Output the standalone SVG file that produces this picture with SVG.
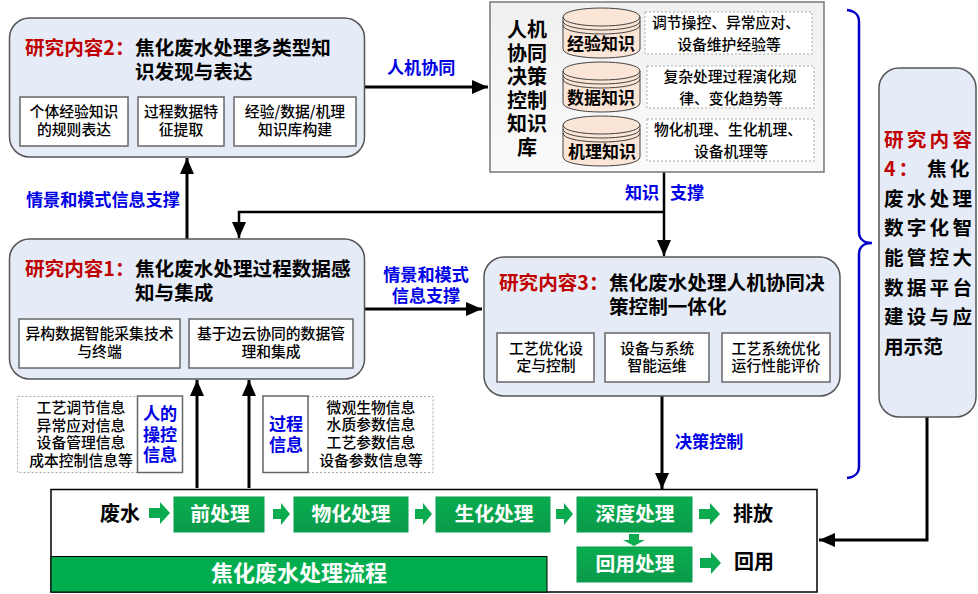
<svg xmlns="http://www.w3.org/2000/svg" width="978" height="594" viewBox="0 0 978 594">
<style>
text{font-family:"Noto Sans CJK SC","Liberation Sans",sans-serif;fill:#000}
.c{text-anchor:middle}
.panel{fill:#e6ecf7;stroke:#555;stroke-width:1.5}
.sub{fill:#fff;stroke:#666;stroke-width:1.5}
.dash{fill:#fff;stroke:#aaa;stroke-width:1;stroke-dasharray:2 2}
.red{fill:#c00000;font-size:19.6px;font-weight:700}
.title{font-size:19.6px;font-weight:700}
.s{font-size:14.8px;font-weight:500}
.blue{fill:#0000e6;font-size:17.1px;font-weight:700}
.big{font-size:20px;font-weight:700}
.white{fill:#fff;font-size:19.8px;font-weight:700}
.green{fill:url(#gb);stroke:#0aa04c;stroke-width:1}
.line{fill:none;stroke:#000;stroke-width:3}
.thin{fill:none;stroke:#000;stroke-width:2.5}
.cyl{fill:#fbe5d6;stroke:#444;stroke-width:1}
.cl{fill:none;stroke:#444;stroke-width:1}
.ga{fill:#0cab50}
</style>
<defs>
<linearGradient id="gb" x1="0" y1="0" x2="0" y2="1"><stop offset="0" stop-color="#0aad50"/><stop offset="1" stop-color="#0a9a4a"/></linearGradient>
<linearGradient id="kb" x1="0" y1="0" x2="0" y2="1"><stop offset="0" stop-color="#f0f0f0"/><stop offset="1" stop-color="#fafafa"/></linearGradient>
<marker id="ah" markerUnits="userSpaceOnUse" markerWidth="18" markerHeight="14" refX="16" refY="7" orient="auto"><path d="M0 0L16 7L0 14Z" fill="#000"/></marker>
<path id="ar" class="ga" d="M0 -5H11V-11L21 0L11 11V5H0Z"/>
<path id="as" class="ga" d="M0 -5H8V-11L17 0L8 11V5H0Z"/>
<g id="cy">
<path class="cyl" d="M0 9C0 -3 77 -3 77 9V41C77 53 0 53 0 41Z"/>
<path class="cl" d="M0 9C0 21 77 21 77 9M0 13C0 25 77 25 77 13M0 17C0 29 77 29 77 17"/>
</g>
</defs>

<g id="connectors">
<path class="line" d="M365 87H488" marker-end="url(#ah)"/>
<path class="line" d="M187 239V158" marker-end="url(#ah)"/>
<path class="thin" d="M664 212H239V238" marker-end="url(#ah)"/>
<path class="thin" d="M664 172V256" marker-end="url(#ah)"/>
<path class="line" d="M365 309H482" marker-end="url(#ah)"/>
<path class="line" d="M197 488V380" marker-end="url(#ah)"/>
<path class="line" d="M249 488V380" marker-end="url(#ah)"/>
<path class="line" d="M662 396V489" marker-end="url(#ah)"/>
<path class="line" d="M927 417V540H819" marker-end="url(#ah)"/>
<path d="M847 10C855 11 859 14 859 22V232C859 239 864 243 872 243C864 243 859 247 859 254V466C859 474 855 477 847 478" fill="none" stroke="#0000c8" stroke-width="2.5"/>
<text class="blue" x="387" y="74">人机协同</text>
<text class="blue" x="26" y="206">情景和模式信息支撑</text>
<text class="blue" x="625" y="199">知识</text>
<text class="blue" x="670" y="199">支撑</text>
<text class="blue c" x="426" y="281">情景和模式</text>
<text class="blue c" x="426" y="302">信息支撑</text>
<text class="blue" x="675" y="448">决策控制</text>
</g>

<g id="node-r2">
<rect class="panel" x="9.500" y="18" width="355" height="139" rx="20"/>
<text class="red" x="25" y="55">研究内容2：</text>
<text class="title" x="135" y="55">焦化废水处理多类型知</text>
<text class="title" x="135" y="79">识发现与表达</text>
<rect class="sub" x="20" y="97" width="108" height="49"/>
<text class="s c" x="74" y="117">个体经验知识</text>
<text class="s c" x="74" y="135">的规则表达</text>
<rect class="sub" x="138" y="97" width="86" height="49"/>
<text class="s c" x="181" y="117">过程数据特</text>
<text class="s c" x="181" y="135">征提取</text>
<rect class="sub" x="234" y="97" width="122" height="49"/>
<text class="s c" x="295" y="117">经验/数据/机理</text>
<text class="s c" x="295" y="135">知识库构建</text>
</g>

<g id="node-r1">
<rect class="panel" x="9.500" y="239" width="355" height="140" rx="20"/>
<text class="red" x="25" y="276">研究内容1：</text>
<text class="title" x="135" y="276">焦化废水处理过程数据感</text>
<text class="title" x="135" y="300">知与集成</text>
<rect class="sub" x="19" y="319" width="161" height="49"/>
<text class="s c" x="99.500" y="339">异构数据智能采集技术</text>
<text class="s c" x="99.500" y="357">与终端</text>
<rect class="sub" x="189" y="319" width="164" height="49"/>
<text class="s c" x="271" y="339">基于边云协同的数据管</text>
<text class="s c" x="271" y="357">理和集成</text>
</g>

<g id="node-r3">
<rect class="panel" x="484" y="257" width="356" height="139" rx="20"/>
<text class="red" x="499" y="290">研究内容3：</text>
<text class="title" x="609" y="290">焦化废水处理人机协同决</text>
<text class="title" x="609" y="314">策控制一体化</text>
<rect class="sub" x="497" y="333" width="97" height="49"/>
<text class="s c" x="546" y="354">工艺优化设</text>
<text class="s c" x="546" y="371">定与控制</text>
<rect class="sub" x="605" y="333" width="104" height="49"/>
<text class="s c" x="657" y="354">设备与系统</text>
<text class="s c" x="657" y="371">智能运维</text>
<rect class="sub" x="722" y="333" width="108" height="49"/>
<text class="s c" x="776" y="354">工艺系统优化</text>
<text class="s c" x="776" y="371">运行性能评价</text>
</g>

<g id="node-kb">
<rect x="490" y="2" width="334" height="170" fill="url(#kb)" stroke="#777" stroke-width="1.500"/>
<text class="c big" x="527" y="37">人机</text>
<text class="c big" x="527" y="61">协同</text>
<text class="c big" x="527" y="84">决策</text>
<text class="c big" x="527" y="108">控制</text>
<text class="c big" x="527" y="131">知识</text>
<text class="c big" x="527" y="155">库</text>
<use href="#cy" x="563" y="8"/>
<use href="#cy" x="563" y="62"/>
<use href="#cy" x="563" y="116"/>
<text class="c" font-size="17" font-weight="700" x="601" y="50">经验知识</text>
<text class="c" font-size="17" font-weight="700" x="601" y="104">数据知识</text>
<text class="c" font-size="17" font-weight="700" x="602" y="158">机理知识</text>
<rect class="dash" x="645" y="12" width="167" height="42"/>
<text class="s c" x="726" y="28">调节操控、异常应对、</text>
<text class="s c" x="729" y="50">设备维护经验等</text>
<rect class="dash" x="647" y="66" width="167" height="42"/>
<text class="s c" x="730" y="82">复杂处理过程演化规</text>
<text class="s c" x="731" y="104">律、变化趋势等</text>
<rect class="dash" x="647" y="119" width="167" height="42"/>
<text class="s c" x="728" y="135">物化机理、生化机理、</text>
<text class="s c" x="731" y="157">设备机理等</text>
</g>

<g id="node-r4">
<rect class="panel" x="879" y="68" width="97" height="349" rx="20"/>
<text class="red" x="884" y="147" letter-spacing="3.200">研究内容</text>
<text class="red" x="884" y="176" letter-spacing="3">4：</text>
<text class="title" x="927" y="176" letter-spacing="3.200">焦化</text>
<text class="title" x="884" y="206" letter-spacing="3.200">废水处理</text>
<text class="title" x="884" y="235" letter-spacing="3.200">数字化智</text>
<text class="title" x="884" y="265" letter-spacing="3.200">能管控大</text>
<text class="title" x="884" y="295" letter-spacing="3.200">数据平台</text>
<text class="title" x="884" y="324" letter-spacing="3.200">建设与应</text>
<text class="title" x="884" y="354">用示范</text>
</g>

<g id="node-human">
<rect class="dash" x="17.500" y="396.500" width="120" height="76"/>
<text class="s c" x="81" y="413">工艺调节信息</text>
<text class="s c" x="81" y="431">异常应对信息</text>
<text class="s c" x="81" y="448">设备管理信息</text>
<text class="s c" x="81" y="466">成本控制信息等</text>
<rect class="sub" x="137.500" y="396" width="45" height="76.500"/>
<text class="blue c" x="160" y="420">人的</text>
<text class="blue c" x="160" y="441">操控</text>
<text class="blue c" x="160" y="461">信息</text>
</g>

<g id="node-process-info">
<rect class="dash" x="308" y="396.500" width="125" height="76"/>
<text class="s c" x="371" y="413">微观生物信息</text>
<text class="s c" x="371" y="430">水质参数信息</text>
<text class="s c" x="371" y="448">工艺参数信息</text>
<text class="s c" x="371" y="466">设备参数信息等</text>
<rect class="sub" x="263" y="396" width="45" height="76.500"/>
<text class="blue c" x="286" y="430">过程</text>
<text class="blue c" x="286" y="451">信息</text>
</g>

<g id="node-flow">
<rect x="51" y="489.500" width="766" height="102.500" fill="#fff" stroke="#000" stroke-width="1.500"/>
<rect x="51" y="556.500" width="496" height="35.500" fill="#00ad4e" stroke="#000" stroke-width="1"/>
<text class="c" x="299" y="581" font-size="22" font-weight="700" style="fill:#fff">焦化废水处理流程</text>
<text class="big c" x="120" y="521">废水</text>
<rect class="green" x="174" y="497" width="90" height="35"/>
<text class="white c" x="220" y="521">前处理</text>
<rect class="green" x="294" y="497" width="114" height="35"/>
<text class="white c" x="351" y="521">物化处理</text>
<rect class="green" x="436" y="497" width="114" height="35"/>
<text class="white c" x="494" y="521">生化处理</text>
<rect class="green" x="577" y="497" width="115" height="35"/>
<text class="white c" x="635" y="521">深度处理</text>
<rect class="green" x="577" y="547" width="115" height="35"/>
<text class="white c" x="635" y="571">回用处理</text>
<text class="big c" x="753" y="521">排放</text>
<text class="big c" x="754" y="569">回用</text>
<use href="#ar" x="149" y="513"/>
<use href="#as" x="273" y="514"/>
<use href="#as" x="415" y="514"/>
<use href="#as" x="556" y="514"/>
<use href="#ar" x="699" y="514"/>
<use href="#ar" x="700" y="563"/>
<path class="ga" d="M629 534H639V540H645L634 546L623 540H629Z"/>
</g>
</svg>
